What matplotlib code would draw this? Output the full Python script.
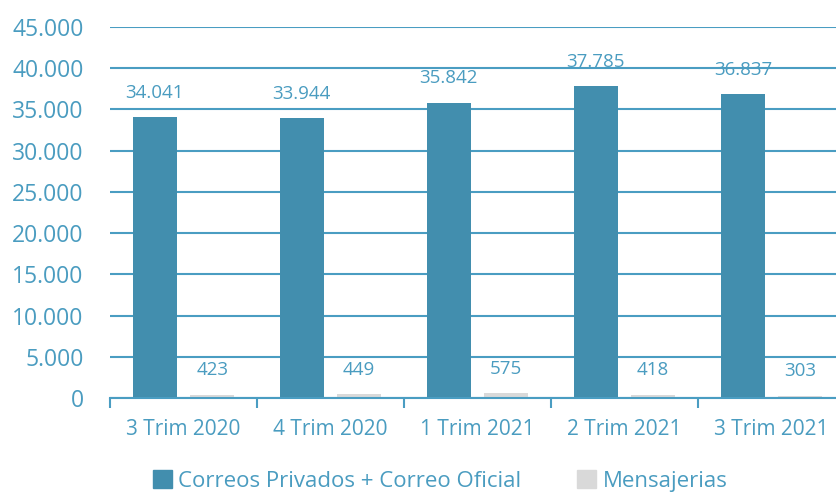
import numpy as np
import matplotlib.pyplot as plt
from matplotlib.patches import Patch
from matplotlib.ticker import FuncFormatter

plt.rcParams['font.family'] = ['Open Sans', 'DejaVu Sans']

trimestres = ['3 Trim 2020', '4 Trim 2020', '1 Trim 2021', '2 Trim 2021', '3 Trim 2021']
correos = [34041, 33944, 35842, 37785, 36837]
mensajerias = [423, 449, 575, 418, 303]

azul = '#428EAE'
gris = '#D9D9D9'
texto = '#4A9CC0'
linea = '#4A9DC2'

fig = plt.figure(figsize=(8.36, 4.94), dpi=100)
ax = fig.add_axes([110/836, 1 - 398/494, 735/836, (398 - 27)/494])

x = np.arange(len(trimestres))
w = 0.3
off = 0.195
ax.bar(x - off, correos, w, color=azul, zorder=3)
ax.bar(x + off, mensajerias, w, color=gris, zorder=3)

def miles(v):
    return f'{int(v):,}'.replace(',', '.')

for i in range(len(x)):
    ax.annotate(miles(correos[i]), (x[i] - off, correos[i]), xytext=(0, 11),
                textcoords='offset points', ha='center', va='bottom',
                color=texto, fontsize=13.5)
    ax.annotate(miles(mensajerias[i]), (x[i] + off, mensajerias[i]), xytext=(0, 11),
                textcoords='offset points', ha='center', va='bottom',
                color=texto, fontsize=13.5)

ax.set_xlim(-0.5, 4.5)
ax.set_ylim(0, 45000)
ax.set_yticks(np.arange(0, 45001, 5000))
ax.yaxis.set_major_formatter(FuncFormatter(lambda v, p: miles(v)))
ax.tick_params(axis='y', length=0, labelsize=16.5, labelcolor=texto, pad=19)

ax.set_xticks(x)
ax.set_xticklabels(trimestres)
ax.set_xticks(np.arange(-0.5, 5, 1), minor=True)
ax.tick_params(axis='x', which='major', length=0, labelsize=15, labelcolor=texto, pad=15)
ax.tick_params(axis='x', which='minor', length=7, width=1.5, color=linea)

ax.grid(axis='y', color=linea, linewidth=1.5, zorder=0)
for s in ['top', 'right', 'left']:
    ax.spines[s].set_visible(False)
ax.spines['bottom'].set_color(linea)
ax.spines['bottom'].set_linewidth(1.5)
ax.spines['bottom'].set_zorder(4)

handles = [Patch(color=azul, label='Correos Privados + Correo Oficial'),
           Patch(color=gris, label='Mensajerias')]
fig.legend(handles=handles, loc='center', bbox_to_anchor=(440/836, 1 - 481/494),
           ncol=2, frameon=False, fontsize=16, labelcolor=texto,
           handlelength=0.85, handleheight=0.85, handletextpad=0.3, columnspacing=2.5,
           borderpad=0.1)

fig.savefig('out.png', dpi=100)
